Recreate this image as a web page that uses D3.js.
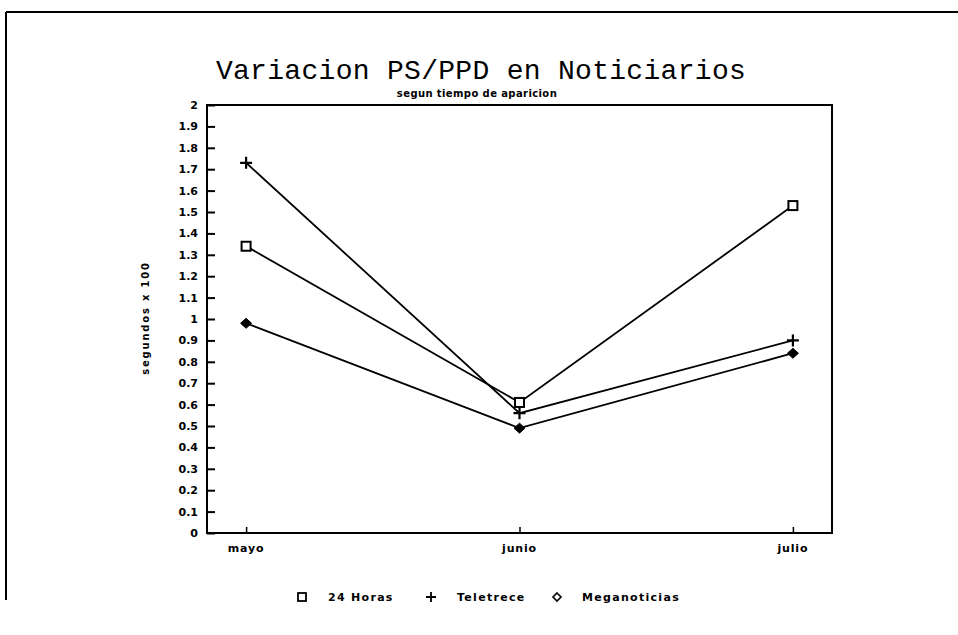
<!DOCTYPE html>
<html>
<head>
<meta charset="utf-8">
<script src="https://cdn.jsdelivr.net/npm/d3@7"></script>
<style>
  body { margin: 0; background: #fff; }
  svg { display: block; }
</style>
</head>
<body>
<div id="chart"></div>
<script>
// data
const months = ["mayo", "junio", "julio"];
const horas24 = [1.34, 0.61, 1.53];
const teletrece = [1.73, 0.56, 0.90];
const meganoticias = [0.98, 0.49, 0.84];
const yTicks = [0, 0.1, 0.2, 0.3, 0.4, 0.5, 0.6, 0.7, 0.8, 0.9, 1, 1.1, 1.2, 1.3, 1.4, 1.5, 1.6, 1.7, 1.8, 1.9, 2];
const seriesNames = ["24 Horas", "Teletrece", "Meganoticias"];
const seriesMarks = ["square", "plus", "diamond"];

const W = 958, H = 635;
const plot = { left: 207, right: 832, top: 105, bottom: 533 };

const svg = d3.select("#chart").append("svg")
  .attr("width", W).attr("height", H);

// outer frame (top + left only visible)
svg.append("line").attr("x1", 6).attr("x2", W).attr("y1", 12).attr("y2", 12)
  .attr("stroke", "#000").attr("stroke-width", 2);
svg.append("line").attr("x1", 6).attr("x2", 6).attr("y1", 12).attr("y2", 600)
  .attr("stroke", "#000").attr("stroke-width", 2);

// titles
svg.append("text")
  .attr("x", 481).attr("y", 79)
  .attr("text-anchor", "middle")
  .style("font-family", "'Liberation Mono', monospace")
  .style("font-size", "28px")
  .style("letter-spacing", "0.3px")
  .text("Variacion PS/PPD en Noticiarios");

svg.append("text")
  .attr("x", 477).attr("y", 97)
  .attr("text-anchor", "middle")
  .style("font-family", "'DejaVu Sans', sans-serif")
  .style("font-size", "10px")
  .style("font-weight", "bold")
  .style("letter-spacing", "0.4px")
  .text("segun tiempo de aparicion");

const x = d3.scalePoint().domain(months)
  .range([plot.left, plot.right]).padding(0.143);
const y = d3.scaleLinear().domain([0, 2]).range([plot.bottom, plot.top]);

// plot frame
svg.append("rect")
  .attr("x", plot.left).attr("y", plot.top)
  .attr("width", plot.right - plot.left).attr("height", plot.bottom - plot.top)
  .attr("fill", "none").attr("stroke", "#000").attr("stroke-width", 2);

// y axis: ticks pointing inward
const yAxis = svg.append("g")
  .attr("transform", `translate(${plot.left},0)`)
  .call(d3.axisRight(y).tickValues(yTicks).tickSize(8).tickFormat(""));
yAxis.select(".domain").remove();
yAxis.selectAll("line").attr("stroke", "#000").attr("stroke-width", 2);

svg.append("g").selectAll("text")
  .data(yTicks)
  .join("text")
  .attr("x", 198)
  .attr("y", d => y(d) + 4)
  .attr("text-anchor", "end")
  .style("font-family", "'DejaVu Sans', sans-serif")
  .style("font-size", "11px")
  .style("font-weight", "bold")
  .text(d => d3.format("~g")(d));

// x axis: small ticks upward
const xAxis = svg.append("g")
  .attr("transform", `translate(0,${plot.bottom})`)
  .call(d3.axisTop(x).tickSize(6).tickFormat(""));
xAxis.select(".domain").remove();
xAxis.selectAll("line").attr("stroke", "#000").attr("stroke-width", 1.5);

svg.append("g").selectAll("text")
  .data(months)
  .join("text")
  .attr("x", d => x(d))
  .attr("y", 552)
  .attr("text-anchor", "middle")
  .style("font-family", "'DejaVu Sans', sans-serif")
  .style("font-size", "11px")
  .style("font-weight", "bold")
  .style("letter-spacing", "0.8px")
  .text(d => d);

// y axis title
svg.append("text")
  .attr("transform", "translate(149,318) rotate(-90)")
  .attr("text-anchor", "middle")
  .style("font-family", "'DejaVu Sans', sans-serif")
  .style("font-size", "10px")
  .style("font-weight", "bold")
  .style("letter-spacing", "1.8px")
  .text("segundos x 100");

// series
const seriesData = [horas24, teletrece, meganoticias];
const line = d3.line().x((d, i) => x(months[i])).y(d => y(d));

function drawMark(g, type, cx, cy) {
  if (type === "square") {
    g.append("rect").attr("x", cx - 4.5).attr("y", cy - 4.5)
      .attr("width", 9).attr("height", 9)
      .attr("fill", "#fff").attr("stroke", "#000").attr("stroke-width", 2);
  } else if (type === "plus") {
    g.append("path")
      .attr("d", `M${cx - 6},${cy}H${cx + 6}M${cx},${cy - 6}V${cy + 6}`)
      .attr("stroke", "#000").attr("stroke-width", 2.2);
  } else {
    g.append("path")
      .attr("d", `M${cx},${cy - 5}L${cx + 5.5},${cy}L${cx},${cy + 5}L${cx - 5.5},${cy}Z`)
      .attr("fill", "#000").attr("stroke", "#000").attr("stroke-width", 1);
  }
}

seriesData.forEach((vals, k) => {
  svg.append("path")
    .datum(vals)
    .attr("d", line)
    .attr("fill", "none")
    .attr("stroke", "#000")
    .attr("stroke-width", 1.8);
});

seriesData.forEach((vals, k) => {
  const g = svg.append("g");
  vals.forEach((v, i) => drawMark(g, seriesMarks[k], x(months[i]), y(v)));
});

// legend
const legendX = [302, 431, 557];
const legendTextX = [328, 457, 582];
const legend = svg.append("g");
seriesNames.forEach((name, k) => {
  const ly = 597;
  if (seriesMarks[k] === "square") {
    legend.append("rect").attr("x", legendX[k] - 4).attr("y", ly - 4)
      .attr("width", 8).attr("height", 8)
      .attr("fill", "none").attr("stroke", "#000").attr("stroke-width", 1.8);
  } else if (seriesMarks[k] === "plus") {
    legend.append("path")
      .attr("d", `M${legendX[k] - 5},${ly}H${legendX[k] + 5}M${legendX[k]},${ly - 5}V${ly + 5}`)
      .attr("stroke", "#000").attr("stroke-width", 1.8);
  } else {
    legend.append("path")
      .attr("d", `M${legendX[k]},${ly - 4}L${legendX[k] + 4},${ly}L${legendX[k]},${ly + 4}L${legendX[k] - 4},${ly}Z`)
      .attr("fill", "none").attr("stroke", "#000").attr("stroke-width", 1.6);
  }
  legend.append("text")
    .attr("x", legendTextX[k]).attr("y", ly + 4)
    .style("font-family", "'DejaVu Sans', sans-serif")
    .style("font-size", "11px")
    .style("font-weight", "bold")
    .style("letter-spacing", "1.3px")
    .text(name);
});
</script>
</body>
</html>
